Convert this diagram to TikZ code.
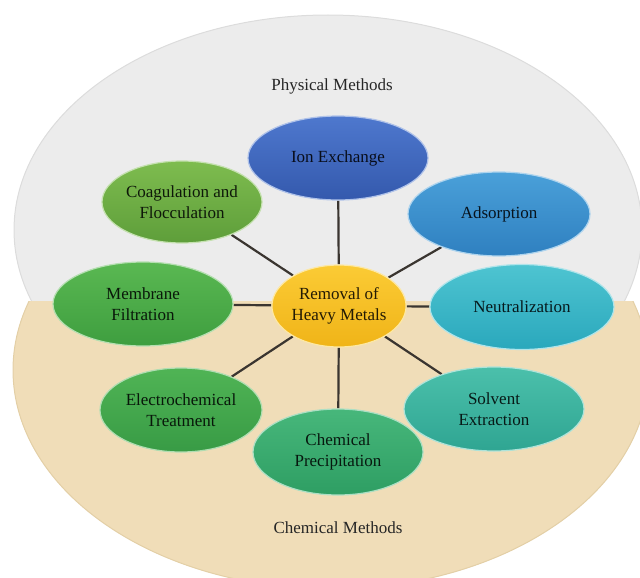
\documentclass[tikz,border=0pt]{standalone}
\usepackage{fontspec}
\setmainfont{Liberation Serif}
\usetikzlibrary{shapes.geometric,backgrounds}
\definecolor{graybg}{HTML}{ECECEC}
\definecolor{grayedge}{HTML}{DCDCDC}
\definecolor{beigebg}{HTML}{F0DDB8}
\definecolor{beigeedge}{HTML}{E3CFA6}
\definecolor{linec}{HTML}{3A3530}
\definecolor{ionT}{HTML}{4E78CE}\definecolor{ionB}{HTML}{3459AD}
\definecolor{coaT}{HTML}{7EBC4F}\definecolor{coaB}{HTML}{5E9E3A}
\definecolor{adsT}{HTML}{4AA0D9}\definecolor{adsB}{HTML}{2F80C0}
\definecolor{memT}{HTML}{5AB852}\definecolor{memB}{HTML}{3E9E3F}
\definecolor{cenT}{HTML}{FBCB35}\definecolor{cenB}{HTML}{F0B418}
\definecolor{neuT}{HTML}{4EC4D1}\definecolor{neuB}{HTML}{2AA8BC}
\definecolor{eleT}{HTML}{50B455}\definecolor{eleB}{HTML}{389B45}
\definecolor{solT}{HTML}{4BC0AB}\definecolor{solB}{HTML}{2FA592}
\definecolor{preT}{HTML}{47B77B}\definecolor{preB}{HTML}{2E9E63}
\tikzset{
  method/.style n args={2}{ellipse, inner sep=0pt, align=center,
    top color=#1, bottom color=#2, draw=#1!45!white, line width=1.2pt,
    text=#2!15!black, font=\fontsize{17}{21}\selectfont},
  grouplabel/.style={text=black!85, font=\fontsize{17}{21}\selectfont},
  spoke/.style={draw=linec, line width=2.2pt}
}
\begin{document}
\begin{tikzpicture}[x=1pt,y=-1pt]
\useasboundingbox (0,0) rectangle (640,578);
\node[method={ionT}{ionB}, minimum width=180pt, minimum height=84pt] (ion) at (338,158) {Ion Exchange};
\node[method={coaT}{coaB}, minimum width=160pt, minimum height=82pt] (coa) at (182,202) {Coagulation and\\Flocculation};
\node[method={adsT}{adsB}, minimum width=182pt, minimum height=84pt] (ads) at (499,214) {Adsorption};
\node[method={memT}{memB}, minimum width=180pt, minimum height=84pt] (mem) at (143,304) {Membrane\\Filtration};
\node[method={cenT}{cenB}, minimum width=131pt, minimum height=82pt] (cen) at (339,306) {Removal of\\Heavy Metals};
\node[method={neuT}{neuB}, minimum width=184pt, minimum height=85pt] (neu) at (522,307) {Neutralization};
\node[method={eleT}{eleB}, minimum width=162pt, minimum height=84pt] (ele) at (181,410) {Electrochemical\\Treatment};
\node[method={solT}{solB}, minimum width=180pt, minimum height=84pt] (sol) at (494,409) {Solvent\\Extraction};
\node[method={preT}{preB}, minimum width=170pt, minimum height=86pt] (pre) at (338,452) {Chemical\\Precipitation};
\node[grouplabel] (phys) at (332,86) {Physical Methods};
\node[grouplabel] (chem) at (338,528) {Chemical Methods};
\begin{pgfonlayer}{background}
  \begin{scope}
    \clip (0,0) rectangle (640,301);
    \filldraw[fill=graybg, draw=grayedge, line width=1pt] (328,230) ellipse [x radius=314, y radius=215];
  \end{scope}
  \begin{scope}
    \clip (0,301) rectangle (640,578);
    \filldraw[fill=beigebg, draw=beigeedge, line width=1pt] (331,370) ellipse [x radius=318, y radius=219];
  \end{scope}
  \foreach \n in {ion,coa,ads,mem,neu,ele,sol,pre}
    \draw[spoke] (cen) -- (\n);
\end{pgfonlayer}
\end{tikzpicture}
\end{document}
